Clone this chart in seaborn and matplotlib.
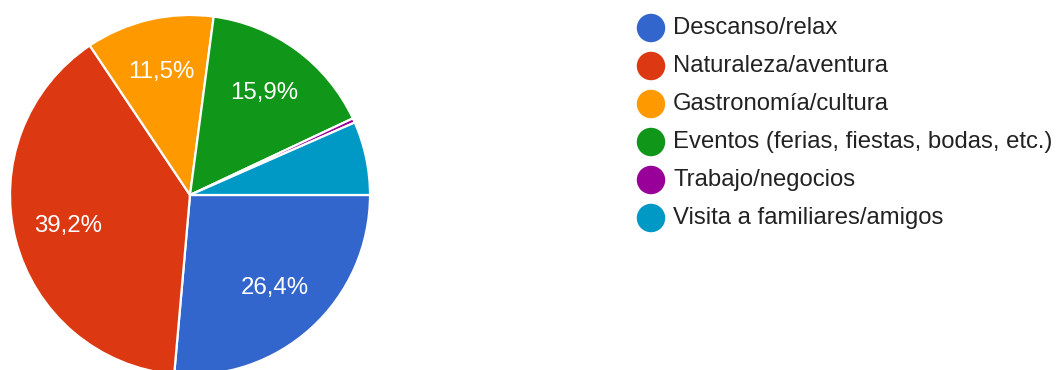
import matplotlib
matplotlib.use("Agg")
import matplotlib.pyplot as plt
import seaborn as sns

# Motivo principal del viaje (porcentaje de respuestas)
categories = [
    "Descanso/relax",
    "Naturaleza/aventura",
    "Gastronomía/cultura",
    "Eventos (ferias, fiestas, bodas, etc.)",
    "Trabajo/negocios",
    "Visita a familiares/amigos",
]
shares = [26.4, 39.2, 11.5, 15.9, 0.4, 6.6]
colors = ["#3366cc", "#dc3912", "#ff9900", "#109618", "#990099", "#0099c6"]

sns.set_theme(style="white")
plt.rcParams["font.family"] = ["Liberation Sans", "DejaVu Sans"]

W, H, DPI = 1060, 370, 100
fig = plt.figure(figsize=(W / DPI, H / DPI), dpi=DPI)
ax = fig.add_axes([0, 0, 1, 1])
ax.set_axis_off()

# pie centre and radius in pixels; data units are pie radii
cx, cy, R = 190, 195, 180


def px(x, y):
    """pixel position (from top-left) -> data coordinates"""
    return (x - cx) / R, (cy - y) / R


def pct_label(p):
    return f"{p:.1f}%".replace(".", ",") if p >= 10 else ""


wedges, _, autotexts = ax.pie(
    shares,
    colors=colors,
    startangle=0,
    counterclock=False,
    radius=1.0,
    center=(0, 0),
    autopct=pct_label,
    pctdistance=0.70,
    wedgeprops=dict(edgecolor="white", linewidth=1.6),
    textprops=dict(color="white", fontsize=17.3),
    frame=False,
)
ax.set_aspect("auto")
ax.set_xlim(-cx / R, (W - cx) / R)
ax.set_ylim(-(H - cy) / R, cy / R)
ax.set_axis_off()

# legend: colour dot + category name
for i, (name, col) in enumerate(zip(categories, colors)):
    y = 28 + 38 * i
    mx, my = px(651, y)
    ax.scatter([mx], [my], s=420, color=col, edgecolors="none", zorder=3)
    tx, ty = px(673, y)
    ax.text(tx, ty, name, fontsize=17.2, color="#222222", va="center", ha="left")

fig.savefig("out.png", dpi=DPI)
